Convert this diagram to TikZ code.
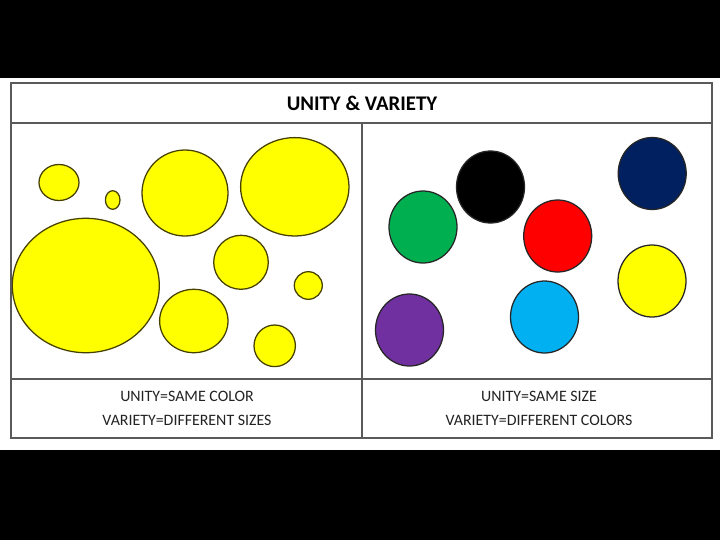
\documentclass[tikz,border=0pt]{standalone}
\usepackage{fontspec}
\setmainfont{Carlito}
\usetikzlibrary{positioning}
\tikzstyle{board} = [x = 0.025cm, y = -0.025cm]
\definecolor{frameColor}{RGB}{90,90,90}
\definecolor{rimColor}{RGB}{70,65,0}
\definecolor{captionColor}{RGB}{35,35,35}
\definecolor{spotGreen}{HTML}{00B050}
\definecolor{spotRed}{HTML}{FF0000}
\definecolor{spotNavy}{HTML}{002060}
\definecolor{spotSky}{HTML}{00B0F0}
\definecolor{spotPurple}{HTML}{7030A0}
\definecolor{spotYellow}{HTML}{FFFF00}
\tikzstyle{frameLine} = [color=frameColor, line width=1.4pt]
\tikzstyle{spotStyle} = [line width=.9pt]
\tikzstyle{titleText} = [font=\bfseries\fontsize{14.8}{17}\selectfont, text=black]
\tikzstyle{captionText} = [font=\fontsize{11.3}{13}\selectfont, text=captionColor]
\newcommand{\yellowSpot}[4]{\filldraw [spotStyle, fill=spotYellow, draw=rimColor] (#1, #2) ellipse [x radius = #3, y radius = #4];}
\newcommand{\colorSpot}[3]{\filldraw [spotStyle, fill=#3, draw=black!85] (#1, #2) ellipse [x radius = 34, y radius = 36];}
\begin{document}
\begin{tikzpicture}[board]
  \fill [black] (0,0) rectangle (720,540);
  \fill [white] (0,78) rectangle (720,450);
  % yellow spots, one colour, many sizes
  \yellowSpot{59}{182.5}{20}{18}
  \yellowSpot{112.7}{200}{7.3}{9.3}
  \yellowSpot{185}{193}{43}{43}
  \yellowSpot{294.8}{186.8}{54.2}{49.2}
  \yellowSpot{85.8}{285.5}{73.5}{67.2}
  \yellowSpot{241}{262.3}{27.3}{27}
  \yellowSpot{308.3}{285.5}{14}{13.8}
  \yellowSpot{193.8}{321}{34.2}{31.7}
  \yellowSpot{274.7}{345.8}{20.7}{20.8}
  % one size, many colours
  \colorSpot{490.5}{187}{black}
  \colorSpot{652.2}{173.5}{spotNavy}
  \colorSpot{423}{227}{spotGreen}
  \colorSpot{557.7}{236}{spotRed}
  \colorSpot{652}{281}{spotYellow}
  \colorSpot{409.5}{330}{spotPurple}
  \colorSpot{544.5}{317}{spotSky}
  % table
  \draw [frameLine] (11,83) rectangle (712,438);
  \draw [frameLine] (11,123) -- (712,123);
  \draw [frameLine] (11,379) -- (712,379);
  \draw [frameLine] (362,123) -- (362,438);
  \node [titleText] (title) at (362,103) {UNITY \& VARIETY};
  \node [captionText] (leftUnity) at (187,396) {UNITY=SAME COLOR};
  \node [captionText] (leftVariety) at (187,420) {VARIETY=DIFFERENT SIZES};
  \node [captionText] (rightUnity) at (539,396) {UNITY=SAME SIZE};
  \node [captionText] (rightVariety) at (539,420) {VARIETY=DIFFERENT COLORS};
\end{tikzpicture}
\end{document}
